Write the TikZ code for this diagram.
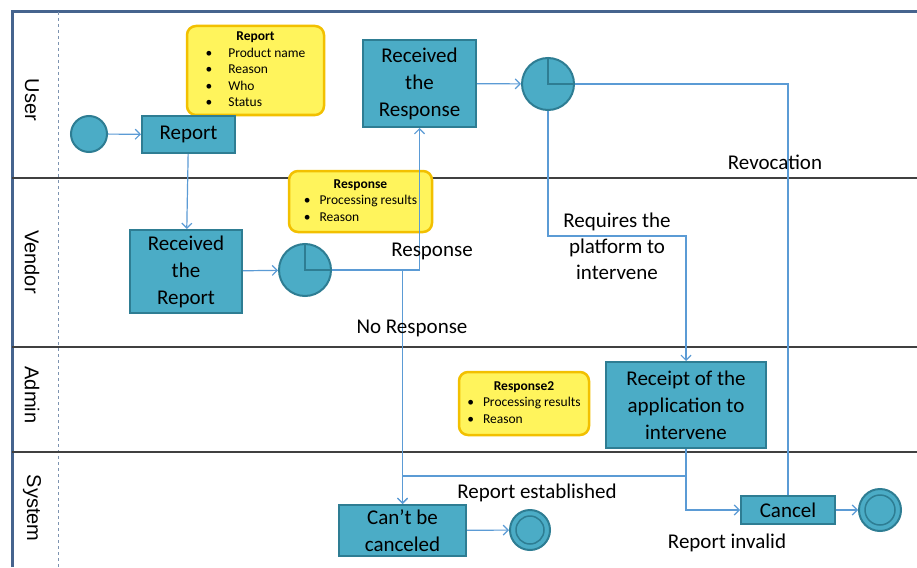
\documentclass[tikz,border=0pt]{standalone}
\usepackage{fontspec}
\setmainfont{Carlito}
\newfontfamily\lanefont{Liberation Sans}
\usetikzlibrary{arrows.meta}
\definecolor{boxfill}{HTML}{4BACC6}
\definecolor{boxline}{HTML}{2E7D93}
\definecolor{notefill}{HTML}{FFF45C}
\definecolor{noteline}{HTML}{F2C000}
\definecolor{flowline}{HTML}{5B9BD5}
\definecolor{frameline}{HTML}{46648E}

\begin{document}
\begin{tikzpicture}
          [x=1pt,y=-1pt,>={Straight Barb[length=5pt,width=10pt]},
           every node/.style={font=\fontsize{21}{27}\selectfont},
           box/.style={draw=boxline, fill=boxfill, line width=2pt, align=center, inner sep=0pt},
           note/.style={draw=noteline, fill=notefill, line width=2.5pt, rounded corners=9pt, inner sep=0pt, font=\fontsize{13.5}{16.5}\selectfont},
           event/.style={circle, draw=boxline, fill=boxfill, line width=2pt, inner sep=0pt},
           flow/.style={draw=flowline, line width=1.2pt},
           lane/.style={font=\lanefont\fontsize{20}{24}\selectfont, rotate=-90}]
        \fill[white] (0,0) rectangle (917,567);
        \useasboundingbox (0,0) rectangle (917,567);

        % lanes
        \draw[frameline, line width=3pt] (12,567) -- (12,12) -- (917,12);
        \draw[frameline!70, dashed, line width=0.8pt] (58,12) -- (58,567);
        \draw[black!75, line width=1.5pt] (12,178) -- (917,178);
        \draw[black!75, line width=1.5pt] (12,347) -- (917,347);
        \draw[black!75, line width=1.5pt] (12,452) -- (917,452);
        \node[lane] (l1) at (32,100) {User};
        \node[lane] (l2) at (32,262) {Vendor};
        \node[lane] (l3) at (32,395) {Admin};
        \node[lane] (l4) at (32,508) {System};

        % notes
        \node[note, minimum width=137pt, minimum height=89pt] (d1) at (255.5,70.5)
          {\begin{tabular}{@{}l@{\hspace{16pt}}l@{}}\multicolumn{2}{c}{\textbf{Report}}\\ \textbullet & Product name\\ \textbullet & Reason\\ \textbullet & Who\\ \textbullet & Status\end{tabular}};
        \node[note, minimum width=143pt, minimum height=61pt] (d2) at (360.5,201.5)
          {\begin{tabular}{@{}l@{\hspace{9pt}}l@{}}\multicolumn{2}{c}{\textbf{Response}}\\ \textbullet & Processing results\\ \textbullet & Reason\end{tabular}};
        \node[note, minimum width=130pt, minimum height=63pt] (d3) at (524,403.5)
          {\begin{tabular}{@{}l@{\hspace{9pt}}l@{}}\multicolumn{2}{c}{\textbf{Response2}}\\ \textbullet & Processing results\\ \textbullet & Reason\end{tabular}};

        % user
        \node[event, minimum size=36pt] (u0) at (89,134) {};
        \node[box, minimum width=93pt, minimum height=37pt] (u1) at (188.5,134.5) {Report};
        \node[box, minimum width=113pt, minimum height=87pt] (u2) at (419.5,83.5) {Received\\the\\Response};
        \node[event, minimum size=52pt] (u3) at (548,84) {};
        \draw[boxline, line width=2pt] (u3.north) -- (u3.center) -- (u3.east);

        % vendor
        \node[box, minimum width=112pt, minimum height=83pt] (v1) at (186,271.5) {Received\\the\\Report};
        \node[event, minimum size=52pt] (v2) at (305,270) {};
        \draw[boxline, line width=2pt] (v2.north) -- (v2.center) -- (v2.east);

        % admin
        \node[box, minimum width=160pt, minimum height=86pt] (a1) at (686,405) {Receipt of the\\application to\\intervene};

        % system
        \node[box, minimum width=127pt, minimum height=51pt] (s1) at (402.5,530.5) {Can’t be\\canceled};
        \node[event, minimum size=40pt] (s2) at (530,530) {};
        \draw[boxline, line width=1.5pt] (s2.center) circle[radius=14];
        \node[box, minimum width=94pt, minimum height=28pt] (s3) at (788,510) {Cancel};
        \node[event, minimum size=42pt] (s4) at (880,510) {};
        \draw[boxline, line width=1.5pt] (s4.center) circle[radius=15];

        \coordinate (j1) at (686,476);
        \coordinate (j2) at (600,236);

        % flows
        \foreach \from/\to in {u0/u1, u1/v1, v1/v2, u2/u3, s1/s2, s3/s4}
          \draw[flow] (\from) edge[->] (\to);
        \draw[flow, ->] (v2.east) -| (u2.south);
        \draw[flow, ->] (v2.east -| s1.north) -- (s1.north);
        \draw[flow, ->] (a1.south) -- (j1) -| (s1.north);
        \draw[flow, ->] (j1) |- (s3.west);
        \draw[flow] (u3.east) -| (s3.north);
        \draw[flow, ->] (u3.south) |- (j2) -| (a1.north);

        % labels
        \node (t1) at (432,251) {Response};
        \node (t2) at (412,328) {No Response};
        \node (t3) at (775,162) {Revocation};
        \node[align=center, font=\fontsize{21}{26}\selectfont] (t4) at (617,246) {Requires the\\platform to\\intervene};
        \node (t5) at (537,493) {Report established};
        \node (t6) at (727,543) {Report invalid};
      \end{tikzpicture}
\end{document}
